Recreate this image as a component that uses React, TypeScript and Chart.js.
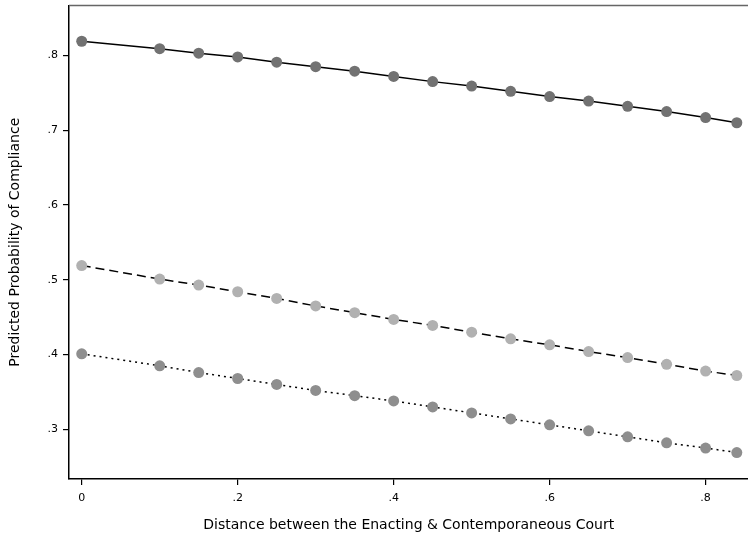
import React, { useEffect, useRef } from "react";
import { Chart, registerables } from "chart.js";

Chart.register(...registerables);

const xValues = [0, 0.1, 0.15, 0.2, 0.25, 0.3, 0.35, 0.4, 0.45, 0.5, 0.55, 0.6, 0.65, 0.7, 0.75, 0.8, 0.84];
const seriesTop = [0.819, 0.809, 0.803, 0.798, 0.791, 0.785, 0.779, 0.772, 0.765, 0.759, 0.752, 0.745, 0.739, 0.732, 0.725, 0.717, 0.710];
const seriesMid = [0.519, 0.501, 0.493, 0.484, 0.475, 0.465, 0.456, 0.447, 0.439, 0.430, 0.421, 0.413, 0.404, 0.396, 0.387, 0.378, 0.372];
const seriesLow = [0.401, 0.385, 0.376, 0.368, 0.360, 0.352, 0.345, 0.338, 0.330, 0.322, 0.314, 0.306, 0.298, 0.290, 0.282, 0.275, 0.269];
const xTicks = [0, 0.2, 0.4, 0.6, 0.8];
const yTicks = [0.3, 0.4, 0.5, 0.6, 0.7, 0.8];

const fmt = (v: number) => {
  const s = (Math.round(v * 10) / 10).toString();
  return s === "0" ? "0" : s.replace(/^0/, "");
};

const topBorder = {
  id: "topBorder",
  afterDraw(chart: any) {
    const { ctx, chartArea } = chart;
    ctx.save();
    ctx.strokeStyle = "#666666";
    ctx.lineWidth = 1.5;
    ctx.beginPath();
    ctx.moveTo(chartArea.left, chartArea.top);
    ctx.lineTo(chartArea.right, chartArea.top);
    ctx.stroke();
    ctx.restore();
  },
};

const zeroPad = (s: any) => {
  s.paddingTop = 0;
  s.paddingBottom = 0;
  s.paddingLeft = 0;
  s.paddingRight = 0;
};

export default function App() {
  const ref = useRef<HTMLCanvasElement | null>(null);
  useEffect(() => {
    if (!ref.current) return;
    const mk = (vals: number[]) => xValues.map((x, i) => ({ x, y: vals[i] }));
    const common = {
      borderColor: "#000000",
      borderWidth: 1.5,
      pointRadius: 5.5,
      pointBorderWidth: 0,
      tension: 0,
    };
    const chart = new Chart(ref.current, {
      type: "line",
      data: {
        datasets: [
          { ...common, data: mk(seriesTop), pointBackgroundColor: "#727272", pointBorderColor: "#727272" },
          { ...common, data: mk(seriesMid), borderDash: [9, 5], pointBackgroundColor: "#b1b1b1", pointBorderColor: "#b1b1b1" },
          { ...common, data: mk(seriesLow), borderDash: [2, 4], pointBackgroundColor: "#8e8e8e", pointBorderColor: "#8e8e8e" },
        ],
      },
      options: {
        animation: false,
        responsive: false,
        maintainAspectRatio: false,
        layout: { padding: { top: 5, right: 0, left: 0, bottom: 0 } },
        plugins: { legend: { display: false }, tooltip: { enabled: false } },
        scales: {
          x: {
            type: "linear",
            min: -0.0163,
            max: 0.855,
            afterFit: (s: any) => { s.height = 59; zeroPad(s); },
            afterBuildTicks: (s: any) => { s.ticks = xTicks.map((v) => ({ value: v })); },
            grid: { display: true, drawOnChartArea: false, drawTicks: true, tickLength: 6, color: "#000", lineWidth: 1.2 },
            border: { display: true, color: "#000", width: 1.5 },
            ticks: { color: "#000", font: { family: "DejaVu Sans", size: 11 }, padding: 7, callback: (v: any) => fmt(Number(v)), maxRotation: 0, autoSkip: false },
            title: { display: true, text: "Distance between the Enacting & Contemporaneous Court", color: "#000", font: { family: "DejaVu Sans", size: 14 }, padding: { top: 0, bottom: 4 } },
          },
          y: {
            type: "linear",
            min: 0.2336,
            max: 0.8668,
            afterFit: (s: any) => { s.width = 69; zeroPad(s); },
            afterBuildTicks: (s: any) => { s.ticks = yTicks.map((v) => ({ value: v })); },
            grid: { display: true, drawOnChartArea: false, drawTicks: true, tickLength: 6, color: "#000", lineWidth: 1.2 },
            border: { display: true, color: "#000", width: 1.5 },
            ticks: { color: "#000", font: { family: "DejaVu Sans", size: 11 }, padding: 5, callback: (v: any) => fmt(Number(v)), autoSkip: false },
            title: { display: true, text: "Predicted Probability of Compliance", color: "#000", font: { family: "DejaVu Sans", size: 14 }, padding: { top: 6.5, bottom: 0 } },
          },
        },
      },
      plugins: [topBorder],
    } as any);
    return () => chart.destroy();
  }, []);
  return (
    <div style={{ position: "fixed", left: 0, top: 0, width: 748, height: 538, background: "#fff", overflow: "hidden" }}>
      <canvas ref={ref} width={754} height={538} style={{ width: 754, height: 538, display: "block" }} />
    </div>
  );
}
